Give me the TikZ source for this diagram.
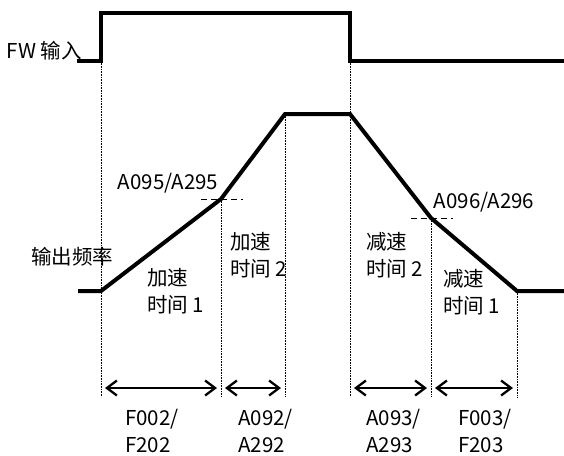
\documentclass[tikz,border=0pt]{standalone}
\usepackage{fontspec}
\setmainfont{Noto Sans CJK SC}
\usetikzlibrary{arrows.meta}
\tikzset{sig/.style={line width=4pt},
	guide/.style={densely dotted,line width=0.6pt},
	level/.style={dash pattern=on 6pt off 4pt,line width=0.8pt},
	span/.style={{Straight Barb[length=10pt,width=15pt]}-{Straight Barb[length=10pt,width=15pt]},line width=2.3pt,shorten <=4pt,shorten >=4pt},
	lbl/.style={font=\fontsize{20.5}{26.5}\selectfont,inner sep=0pt,align=left}}
\begin{document}
\begin{tikzpicture}[x=1pt,y=-1pt]
		\useasboundingbox (0,0) rectangle (564,455);
		\coordinate (up) at (101,61);\coordinate (down) at (350,61);
		\coordinate (s0) at (101,291);\coordinate (b1) at (221,199);\coordinate (t1) at (285,114);\coordinate (t2) at (350,114);\coordinate (b2) at (431,218);\coordinate (e0) at (517,291);
		\draw[sig] (77,61)--(up)|-(350,13)--(down)--(564,61);
		\draw[sig] (78,291)--(s0)--(b1)--(t1)--(t2)--(b2)--(e0)--(564,291);
		\foreach \p in {up,b1,t1,down,b2,e0}{\draw[guide] (\p)--(\p|-0,397);}
		\foreach \p in {b1,b2}{\draw[level] ([xshift=-20pt]\p)--([xshift=22pt]\p);}
		\foreach \a/\b in {up/b1,b1/t1,down/b2,b2/e0}{\draw[span] (\a|-0,388)--(\b|-0,388);}
		\node[lbl,anchor=east] (fw) at (82,51) {FW 输入};\node[lbl] (out) at (72,257) {输出频率};
		\node[lbl] (k1) at (168,183) {A095/A295};\node[lbl] (k2) at (484,202) {A096/A296};
		\node[lbl,anchor=west] (acc1) at (147,291) {加速\\时间 1};\node[lbl,anchor=west] (acc2) at (230,255) {加速\\时间 2};
		\node[lbl,anchor=west] (dec2) at (366,255) {减速\\时间 2};\node[lbl,anchor=west] (dec1) at (443,292) {减速\\时间 1};
		\node[lbl,anchor=west] (p1) at (125,431) {F002/\\F202};\node[lbl,anchor=west] (p2) at (238,431) {A092/\\A292};
		\node[lbl,anchor=west] (p3) at (366,431) {A093/\\A293};\node[lbl,anchor=west] (p4) at (458,431) {F003/\\F203};
	\end{tikzpicture}
\end{document}
